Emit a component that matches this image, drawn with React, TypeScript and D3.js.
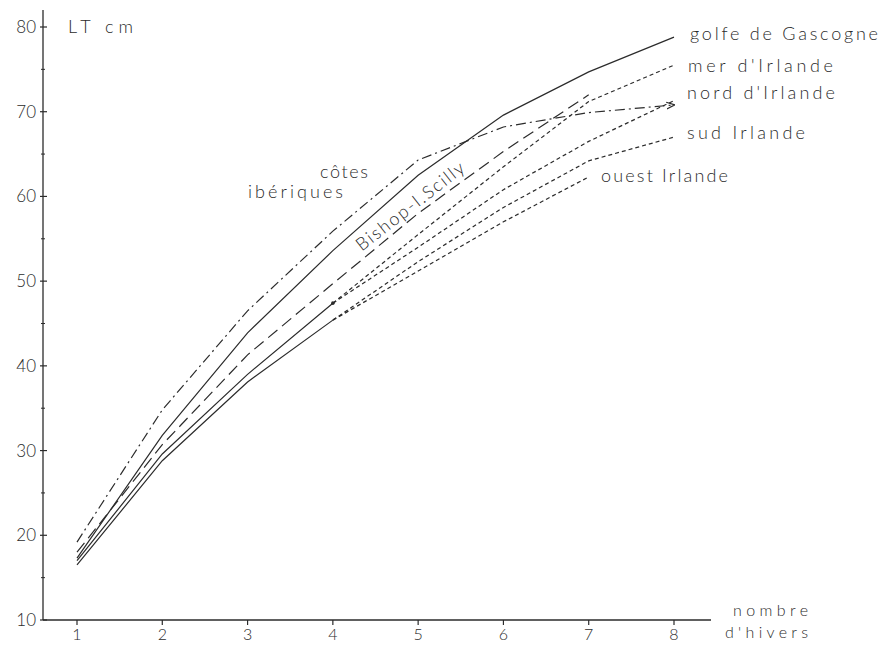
import React from "react";
import * as d3 from "d3";

// ---- data ----
const years = [1, 2, 3, 4, 5, 6, 7, 8];
const yTicks = [10, 20, 30, 40, 50, 60, 70, 80];
const yMinorTicks = [15, 25, 35, 45, 55, 65, 75];

const gascogne = [17.3, 31.8, 43.9, 53.6, 62.5, 69.6, 74.7, 78.8]; // years 1-8
const iberiques = [19.2, 34.8, 46.5, 55.9, 64.3, 68.2, 69.9, 70.8]; // years 1-8
const bishop = [18.0, 30.7, 41.3, 49.7, 58.0, 65.3, 72.0]; // years 1-7
const irlandeHaut = [17.0, 29.6, 39.0, 47.4]; // years 1-4 (solid)
const irlandeBas = [16.5, 28.8, 38.1, 45.4]; // years 1-4 (solid)
const merIrlande = [47.4, 55.5, 63.5, 71.2, 75.5]; // years 4-8
const nordIrlande = [47.4, 54.0, 60.8, 66.5, 71.3]; // years 4-8
const sudIrlande = [45.4, 52.3, 58.7, 64.2, 67.0]; // years 4-8
const ouestIrlande = [45.4, 51.2, 57.0, 62.3]; // years 4-7

const W = 884;
const H = 646;
const FONT = "Lato, 'DejaVu Sans', sans-serif";
const INK = "#2b2b2b";

export default function App() {
  const x = d3.scaleLinear().domain([1, 8]).range([77, 674]);
  const y = d3.scaleLinear().domain([10, 80]).range([620, 27]);

  const line = d3
    .line<[number, number]>()
    .x((d) => x(d[0]))
    .y((d) => y(d[1]))
    .curve(d3.curveLinear);

  const pts = (vals: number[], start: number) =>
    vals.map((v, i) => [start + i, v] as [number, number]);

  const series = [
    { vals: gascogne, start: 1, dash: "none" },
    { vals: iberiques, start: 1, dash: "10,4,2,4", arrow: true },
    { vals: bishop, start: 1, dash: "12,6" },
    { vals: irlandeHaut, start: 1, dash: "none" },
    { vals: irlandeBas, start: 1, dash: "none" },
    { vals: merIrlande, start: 4, dash: "4,3" },
    { vals: nordIrlande, start: 4, dash: "4,3" },
    { vals: sudIrlande, start: 4, dash: "4,3" },
    { vals: ouestIrlande, start: 4, dash: "4,3" },
  ];

  // label placement for Bishop-I.Scilly along its line
  const bx0 = 4.34;
  const bIdx = Math.floor(bx0) - 1;
  const bv = bishop[bIdx] + (bishop[bIdx + 1] - bishop[bIdx]) * (bx0 - Math.floor(bx0));

  const lab = (
    txt: string,
    lx: number,
    ly: number,
    len: number,
    size = 18
  ) => (
    <text
      key={txt}
      x={lx}
      y={ly}
      fontSize={size}
      fontWeight={300}
      fill={INK}
      textLength={len}
      lengthAdjust="spacing"
    >
      {txt}
    </text>
  );

  return (
    <svg
      width={W}
      height={H}
      style={{ position: "absolute", left: 0, top: 0, background: "#fff" }}
      fontFamily={FONT}
    >
      <defs>
        <marker
          id="arr"
          viewBox="0 0 10 10"
          refX="9"
          refY="5"
          markerWidth="7"
          markerHeight="7"
          orient="auto"
        >
          <path d="M0,1 L10,5 L0,9" fill="none" stroke={INK} strokeWidth="1.5" />
        </marker>
      </defs>

      {/* axes */}
      <line x1={43} x2={43} y1={10} y2={y(10)} stroke={INK} strokeWidth={1.3} />
      <line x1={43} x2={711} y1={y(10)} y2={y(10)} stroke={INK} strokeWidth={1.3} />

      {yTicks.map((t) => (
        <g key={"yt" + t}>
          <line x1={40} x2={47} y1={y(t)} y2={y(t)} stroke={INK} strokeWidth={1.2} />
          <text
            x={36}
            y={y(t) + 6}
            textAnchor="end"
            fontSize={17}
            fontWeight={300}
            fill={INK}
          >
            {t}
          </text>
        </g>
      ))}
      {yMinorTicks.map((t) => (
        <line key={"ym" + t} x1={41} x2={45} y1={y(t)} y2={y(t)} stroke={INK} strokeWidth={1} />
      ))}

      {years.map((t) => (
        <g key={"xt" + t}>
          <line x1={x(t)} x2={x(t)} y1={y(10)} y2={y(10) + 5} stroke={INK} strokeWidth={1.2} />
          <text
            x={x(t)}
            y={640}
            textAnchor="middle"
            fontSize={16}
            fontWeight={300}
            fill={INK}
          >
            {t}
          </text>
        </g>
      ))}

      {/* series */}
      {series.map((s, i) => (
        <path
          key={"s" + i}
          d={line(pts(s.vals, s.start)) || ""}
          fill="none"
          stroke={INK}
          strokeWidth={1.2}
          strokeDasharray={s.dash}
          markerEnd={s.arrow ? "url(#arr)" : undefined}
        />
      ))}

      {/* end point of the upper Irish solid line */}
      <circle cx={x(4)} cy={y(irlandeHaut[3])} r={1.8} fill={INK} />

      {/* axis titles */}
      {lab("LT cm", 68, 33, 65)}
      {lab("nombre", 733, 616, 75, 16)}
      {lab("d'hivers", 725, 638, 83, 16)}

      {/* series labels */}
      {lab("golfe de Gascogne", 690, 40, 188)}
      {lab("mer d'Irlande", 688, 72, 145)}
      {lab("nord d'Irlande", 687, 99, 148)}
      {lab("sud Irlande", 687, 139, 118)}
      {lab("ouest Irlande", 601, 182, 127)}
      {lab("côtes", 320, 178, 48)}
      {lab("ibériques", 248, 198, 95)}
      <text
        transform={`translate(${x(bx0)},${y(bv) - 8}) rotate(-38)`}
        fontSize={18}
        fontWeight={300}
        fill={INK}
        textLength={132}
        lengthAdjust="spacing"
      >
        Bishop-I.Scilly
      </text>
    </svg>
  );
}
